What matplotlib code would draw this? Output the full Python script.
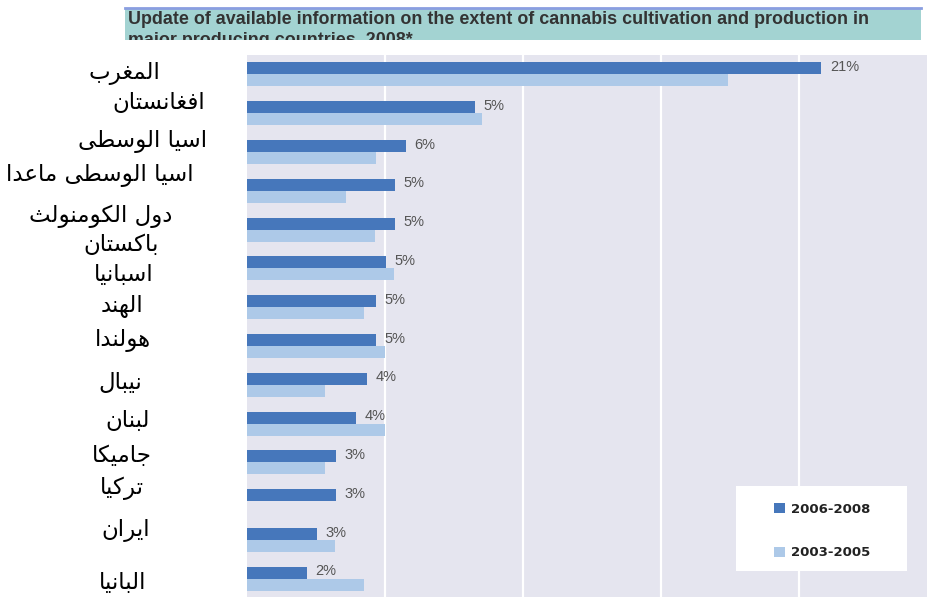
import numpy as np
import matplotlib
matplotlib.use("Agg")
import matplotlib.pyplot as plt
from matplotlib.patches import Rectangle
from matplotlib.lines import Line2D
from matplotlib.transforms import ScaledTranslation

# categories (arabic, logical order), top to bottom
countries = [
    "المغرب",
    "افغانستان",
    "اسيا الوسطى",
    "اسيا الوسطى ماعدا\nدول الكومنولث",
    "باكستان",
    "اسبانيا",
    "الهند",
    "هولندا",
    "نيبال",
    "لبنان",
    "جاميكا",
    "تركيا",
    "ايران",
    "البانيا",
]
# bar lengths (grid every 5)
v_2006_2008 = [20.8, 8.25, 5.75, 5.35, 5.35, 5.03, 4.66, 4.66, 4.34, 3.94, 3.23, 3.21, 2.54, 2.17]
v_2003_2005 = [17.4, 8.5, 4.65, 3.57, 4.63, 5.32, 4.24, 4.99, 2.82, 4.99, 2.82, 0.0, 3.19, 4.24]
pct_labels = ["21%", "5%", "6%", "5%", "5%", "5%", "5%", "5%", "4%", "4%", "3%", "3%", "3%", "2%"]
series_names = ["2006-2008", "2003-2005"]
title = ("Update of available information on the extent of cannabis cultivation and production in\n"
         "major producing countries, 2008*")

DARK = "#4677bb"
LIGHT = "#adc9e8"

# the country names sit a bit loosely next to their bars (pixels, x right / y down)
label_nudge = [(2, -4), (36, -13), (20, -14), (-22, -7), (-1, 12), (1, 4), (0, -4),
               (1, -9), (-2, -5), (5, -6), (0, -9), (0, -16), (3, -13), (0, 1)]

# minimal arabic shaping (presentation forms B): isolated, final, initial, medial
FORMS = {
    "ا": (0xFE8D, 0xFE8E, None, None),
    "ب": (0xFE8F, 0xFE90, 0xFE91, 0xFE92),
    "ت": (0xFE95, 0xFE96, 0xFE97, 0xFE98),
    "ث": (0xFE99, 0xFE9A, 0xFE9B, 0xFE9C),
    "ج": (0xFE9D, 0xFE9E, 0xFE9F, 0xFEA0),
    "د": (0xFEA9, 0xFEAA, None, None),
    "ر": (0xFEAD, 0xFEAE, None, None),
    "س": (0xFEB1, 0xFEB2, 0xFEB3, 0xFEB4),
    "ط": (0xFEC1, 0xFEC2, 0xFEC3, 0xFEC4),
    "ع": (0xFEC9, 0xFECA, 0xFECB, 0xFECC),
    "غ": (0xFECD, 0xFECE, 0xFECF, 0xFED0),
    "ف": (0xFED1, 0xFED2, 0xFED3, 0xFED4),
    "ك": (0xFED9, 0xFEDA, 0xFEDB, 0xFEDC),
    "ل": (0xFEDD, 0xFEDE, 0xFEDF, 0xFEE0),
    "م": (0xFEE1, 0xFEE2, 0xFEE3, 0xFEE4),
    "ن": (0xFEE5, 0xFEE6, 0xFEE7, 0xFEE8),
    "ه": (0xFEE9, 0xFEEA, 0xFEEB, 0xFEEC),
    "و": (0xFEED, 0xFEEE, None, None),
    "ى": (0xFEEF, 0xFEF0, None, None),
    "ي": (0xFEF1, 0xFEF2, 0xFEF3, 0xFEF4),
}


def shape_line(s):
    words = []
    for w in s.split(" "):
        chars = []
        for i, c in enumerate(w):
            f = FORMS.get(c)
            if f is None:
                chars.append(c)
                continue
            prev = FORMS.get(w[i - 1]) if i > 0 else None
            nxt = FORMS.get(w[i + 1]) if i + 1 < len(w) else None
            jp = prev is not None and prev[2] is not None
            jn = nxt is not None and f[2] is not None
            if jp and jn:
                code = f[3]
            elif jp:
                code = f[1]
            elif jn:
                code = f[2]
            else:
                code = f[0]
            chars.append(chr(code))
        words.append("".join(chars))
    return " ".join(words)[::-1]


def shape_ar(s):
    return "\n".join(shape_line(line) for line in s.split("\n"))


fig = plt.figure(figsize=(9.28, 5.99), dpi=100)
ax = fig.add_axes([0.2665, 0.0038, 0.7335, 0.9044])
ax.set_facecolor("#e5e5ef")

y = np.arange(len(countries))
h = 0.31
ax.barh(y - h / 2, v_2006_2008, height=h, color=DARK, label=series_names[0], zorder=2)
ax.barh(y + h / 2, v_2003_2005, height=h, color=LIGHT, label=series_names[1], zorder=2)

for yi, v, lab in zip(y, v_2006_2008, pct_labels):
    ax.annotate(lab, (v, yi - h / 2), xytext=(6, 1), textcoords="offset points",
                va="center", ha="left", fontsize=10.5, color="#555555",
                family="Liberation Sans", zorder=3)

ax.set_xlim(0, 24.66)
ax.set_ylim(len(countries) - 0.54, -0.5)
ax.set_xticks([5, 10, 15, 20])
ax.tick_params(axis="x", length=0, labelbottom=False)
ax.grid(axis="x", color="white", linewidth=1.6)
ax.set_axisbelow(True)
for sp in ax.spines.values():
    sp.set_visible(False)

ax.set_yticks(y)
ax.set_yticklabels([shape_ar(c) for c in countries], fontsize=16.5, ha="center",
                   family="DejaVu Sans", linespacing=1.95)
ax.tick_params(axis="y", length=0, pad=90)
for lab, (dx, dy) in zip(ax.get_yticklabels(), label_nudge):
    lab.set_transform(lab.get_transform()
                      + ScaledTranslation(dx / 100, -dy / 100, fig.dpi_scale_trans))

# legend box
ax.add_patch(Rectangle((0.718, 0.0474), 0.2517, 0.1575, transform=ax.transAxes,
                       facecolor="white", edgecolor="none", zorder=4))
leg = ax.legend(loc="upper left", bbox_to_anchor=(0.7635, 0.186), frameon=False,
                borderpad=0, handlelength=0.9, handleheight=0.75, handletextpad=0.38,
                labelspacing=2.33, prop={"family": "DejaVu Sans", "weight": "bold", "size": 9.5})
leg.set_zorder(5)
for t in leg.get_texts():
    t.set_color("#222222")

# title strip
box = Rectangle((0.1347, 0.9332), 0.8578, 0.0534, transform=fig.transFigure,
                facecolor="#a3d3d2", edgecolor="none")
fig.add_artist(box)
fig.add_artist(Line2D([0.1347, 0.9925], [0.9866, 0.9866], transform=fig.transFigure,
                      color="#8a9ee0", linewidth=2))
tt = fig.text(0.138, 0.982, title, ha="left", va="top", fontsize=12.9, fontweight="bold",
              color="#333333", family="Liberation Sans", linespacing=1.33)
tt.set_clip_path(box)

fig.savefig("out.png", dpi=100)
